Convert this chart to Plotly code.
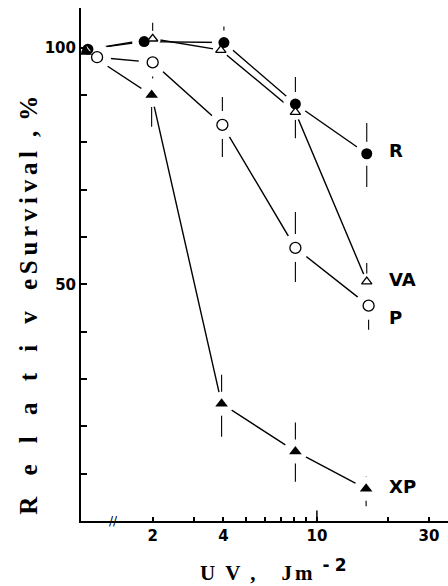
import math
import plotly.graph_objects as go

# ---- data ----
DOSE_R = [1.06, 1.84, 4.02, 8.1, 16.3]
SURV_R = [99.7, 101.3, 101.1, 88.1, 77.6]
ERR_R_UP = [0, 0, 3.4, 5.7, 6.5]
ERR_R_DN = [0, 0, 0, 0, 7.0]

DOSE_VA = [1.05, 2.0, 3.9, 8.1, 16.3]
SURV_VA = [99.6, 101.9, 99.5, 86.4, 50.6]
ERR_VA_UP = [0, 3.4, 0, 0, 3.9]
ERR_VA_DN = [0, 0, 0, 5.5, 0]

DOSE_P = [1.16, 2.0, 3.96, 8.1, 16.6]
SURV_P = [98.0, 96.9, 83.7, 57.7, 45.5]
ERR_P_UP = [0, 0, 5.9, 7.6, 0]
ERR_P_DN = [0, 3.4, 6.8, 7.2, 5.1]

DOSE_XP = [1.04, 1.98, 3.93, 8.1, 16.2]
SURV_XP = [99.1, 90.0, 24.8, 14.7, 6.8]
ERR_XP_UP = [0, 0, 6.1, 6.1, 2.6]
ERR_XP_DN = [0, 6.7, 7.0, 6.4, 3.7]

SERIES_LABELS = ["R", "VA", "P", "XP"]
LABEL_Y = [78.3, 51.0, 42.9, 7.3]
LABEL_DOSE = 19.8

X_TICKS = [2, 4, 10, 30]
X_TICKTEXT = ["2", "4", "10", "30"]
X_MINOR = [3, 5, 6, 7, 8, 9, 20]
Y_TICKS = [50, 100]
Y_TICKTEXT = ["50", "100"]
Y_MINOR = [10, 20, 30, 40, 60, 70, 80, 90]
BREAK_DOSE = 1.36

series = [
    (DOSE_R, SURV_R, ERR_R_UP, ERR_R_DN),
    (DOSE_VA, SURV_VA, ERR_VA_UP, ERR_VA_DN),
    (DOSE_P, SURV_P, ERR_P_UP, ERR_P_DN),
    (DOSE_XP, SURV_XP, ERR_XP_UP, ERR_XP_DN),
]
markers = [
    dict(symbol="circle", size=11, color="black"),
    dict(symbol="triangle-up", size=9, color="white", line=dict(color="black", width=1.3)),
    dict(symbol="circle", size=11, color="white", line=dict(color="black", width=1.3)),
    dict(symbol="triangle-up", size=11, color="black"),
]
halo_sizes = [24, 16, 28, 24]

fig = go.Figure()

# lines + error bars
for x, y, up, dn in series:
    fig.add_trace(go.Scatter(
        x=x, y=y, mode="lines",
        line=dict(color="black", width=1.4),
        error_y=dict(type="data", symmetric=False, array=up, arrayminus=dn,
                     thickness=1.1, width=0, color="black"),
        hoverinfo="skip", showlegend=False))

# white halos to open small gaps around the markers
for (x, y, up, dn), hs in zip(series, halo_sizes):
    fig.add_trace(go.Scatter(
        x=x, y=y, mode="markers",
        marker=dict(symbol="circle", size=hs, color="white", line=dict(width=0)),
        hoverinfo="skip", showlegend=False))

# markers
for (x, y, up, dn), mk, name in zip(series, markers, SERIES_LABELS):
    fig.add_trace(go.Scatter(x=x, y=y, mode="markers", marker=mk, name=name,
                             showlegend=False))

# long tick at 10 on the x axis
fig.add_trace(go.Scatter(x=[10, 10], y=[0, 2.2], mode="lines",
                         line=dict(color="black", width=1.5),
                         hoverinfo="skip", showlegend=False, cliponaxis=False))

annotations = []
for lab, ly in zip(SERIES_LABELS, LABEL_Y):
    annotations.append(dict(
        x=math.log10(LABEL_DOSE), y=ly, xref="x", yref="y", text=lab,
        showarrow=False, xanchor="left", yanchor="middle",
        font=dict(family="DejaVu Sans", size=18, weight="bold", color="black")))

# axis break mark
annotations.append(dict(
    x=math.log10(BREAK_DOSE), y=0, xref="x", yref="y", text="//",
    showarrow=False, xanchor="center", yanchor="middle",
    font=dict(family="DejaVu Sans", size=12, color="black")))

def ls(txt, px):
    return "<span style='letter-spacing:%spx'>%s</span>" % (px, txt)

y_title = ls("Relativ", 21.2) + ls("eSurviva", 4.7) + ls("l", 14) + ls(",", 10) + "%"
annotations.append(dict(
    x=-0.144, y=0.0086, xref="paper", yref="paper", text=y_title,
    showarrow=False, textangle=-90, xanchor="center", yanchor="bottom",
    width=420, align="left",
    font=dict(family="Liberation Serif", size=25, weight="bold", color="black")))

x_title = (ls("UV", 10) + ls(",", 26) + ls("J", 3) + ls("m", 10) +
           "<sup><span style='font-family:DejaVu Sans;font-size:17px'>" +
           ls("-", 5) + "2</span></sup>")
annotations.append(dict(
    x=0.318, y=-0.0955, xref="paper", yref="paper", text=x_title,
    showarrow=False, xanchor="left", yanchor="middle",
    width=160, align="left",
    font=dict(family="Liberation Serif", size=21, weight="bold", color="black")))

tick_font = dict(family="DejaVu Sans", size=15, weight="bold", color="black")

fig.update_layout(
    width=448, height=586,
    margin=dict(l=81, r=0, t=8, b=65),
    paper_bgcolor="white", plot_bgcolor="white",
    annotations=annotations,
    xaxis=dict(type="log", range=[-0.004, 1.558], automargin=False,
               showline=True, linecolor="black", linewidth=2,
               showgrid=False, zeroline=False,
               ticks="inside", ticklen=4, tickwidth=1.5, tickcolor="black",
               tickvals=X_TICKS, ticktext=X_TICKTEXT, tickfont=tick_font,
               minor=dict(tickvals=X_MINOR, ticks="inside", ticklen=4,
                          tickwidth=1.5, tickcolor="black", showgrid=False)),
    yaxis=dict(range=[0, 108.4], automargin=False,
               showline=True, linecolor="black", linewidth=2,
               showgrid=False, zeroline=False,
               ticks="inside", ticklen=6, tickwidth=1.5, tickcolor="black",
               tickvals=Y_TICKS, ticktext=Y_TICKTEXT, tickfont=tick_font,
               minor=dict(tickvals=Y_MINOR, ticks="inside", ticklen=6,
                          tickwidth=1.5, tickcolor="black", showgrid=False)),
)

fig.write_html("out.html", config={"displayModeBar": False},
               post_script="document.body.style.margin='0';document.body.style.padding='0';")
